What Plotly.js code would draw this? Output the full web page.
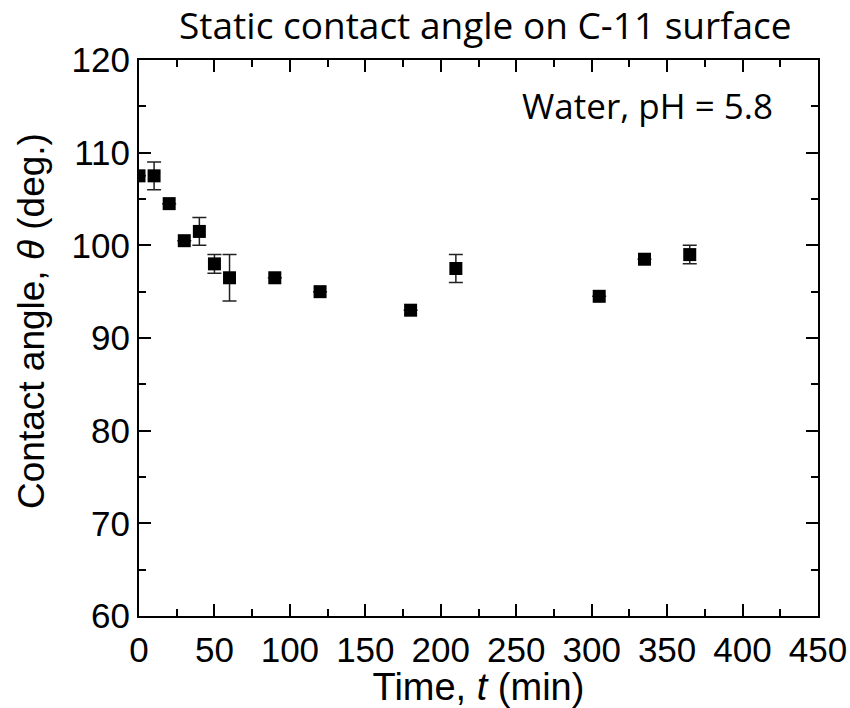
<!DOCTYPE html>
<html>
<head>
<meta charset="utf-8">
<script src="https://cdn.plot.ly/plotly-3.0.1.min.js"></script>
<style>html,body{margin:0;padding:0;background:#fff;}#chart{width:850px;height:708px;}</style>
</head>
<body>
<div id="chart"></div>
<script>
const timeMin = [0, 10, 20, 30, 40, 50, 60, 90, 120, 180, 210, 305, 335, 365];
const contactAngle = [107.5, 107.5, 104.5, 100.5, 101.5, 98, 96.5, 96.5, 95, 93, 97.5, 94.5, 98.5, 99];
const angleError = [0, 1.5, 0, 0, 1.5, 1.0, 2.5, 0, 0, 0, 1.5, 0, 0, 1.0];
const xTicks = [0, 50, 100, 150, 200, 250, 300, 350, 400, 450];
const yTicks = [60, 70, 80, 90, 100, 110, 120];

const trace = {
  x: timeMin,
  y: contactAngle,
  error_y: {type: 'data', array: angleError, visible: true, color: '#222', thickness: 1.5, width: 7},
  mode: 'markers',
  type: 'scatter',
  marker: {symbol: 'square', size: 13, color: '#000'},
  showlegend: false
};

const axisCommon = {
  showline: true, linecolor: '#000', linewidth: 2,
  ticks: 'inside', ticklen: 12, tickwidth: 2, tickcolor: '#000',
  mirror: 'allticks', showgrid: false, zeroline: false,
  tickfont: {family: 'Liberation Sans, Arial, sans-serif', size: 35, color: '#000'}
};

const layout = {
  width: 850, height: 708,
  margin: {l: 139, r: 32, t: 60, b: 92},
  paper_bgcolor: '#fff', plot_bgcolor: '#fff',
  title: {text: 'Static contact angle on C-11 surface', x: 0.571, xanchor: 'center', y: 0.963, yanchor: 'middle',
          font: {family: 'Open Sans, sans-serif', size: 37, color: '#000'}},
  xaxis: Object.assign({}, axisCommon, {
    range: [0, 450], tickvals: xTicks, ticktext: xTicks.map(String), ticklabelstandoff: 2,
    minor: {dtick: 25, tick0: 0, ticks: 'inside', ticklen: 7, tickwidth: 2, tickcolor: '#000'},
    title: {text: 'Time, <i>t</i> (min)', standoff: 0, font: {family: 'Liberation Sans, Arial, sans-serif', size: 38, color: '#000'}}
  }),
  yaxis: Object.assign({}, axisCommon, {
    range: [60, 120], tickvals: yTicks, ticktext: yTicks.map(String),
    minor: {dtick: 5, tick0: 60, ticks: 'inside', ticklen: 7, tickwidth: 2, tickcolor: '#000'}
  }),
  annotations: [
    {
      text: 'Contact angle, <i>θ</i> (deg.)', textangle: -90, xref: 'paper', yref: 'paper',
      x: 0, xshift: -107, xanchor: 'center', y: 0.5306, yanchor: 'middle', showarrow: false,
      font: {family: 'Liberation Sans, Arial, sans-serif', size: 37, color: '#000'}
    },
    {
      text: 'Water, pH = 5.8', xref: 'paper', yref: 'paper', x: 0.937, y: 0.918, xanchor: 'right', yanchor: 'middle',
      showarrow: false, font: {family: 'Open Sans, sans-serif', size: 35, color: '#000'}
    }
  ]
};

Plotly.newPlot('chart', [trace], layout, {displayModeBar: false, staticPlot: true});
</script>
</body>
</html>
